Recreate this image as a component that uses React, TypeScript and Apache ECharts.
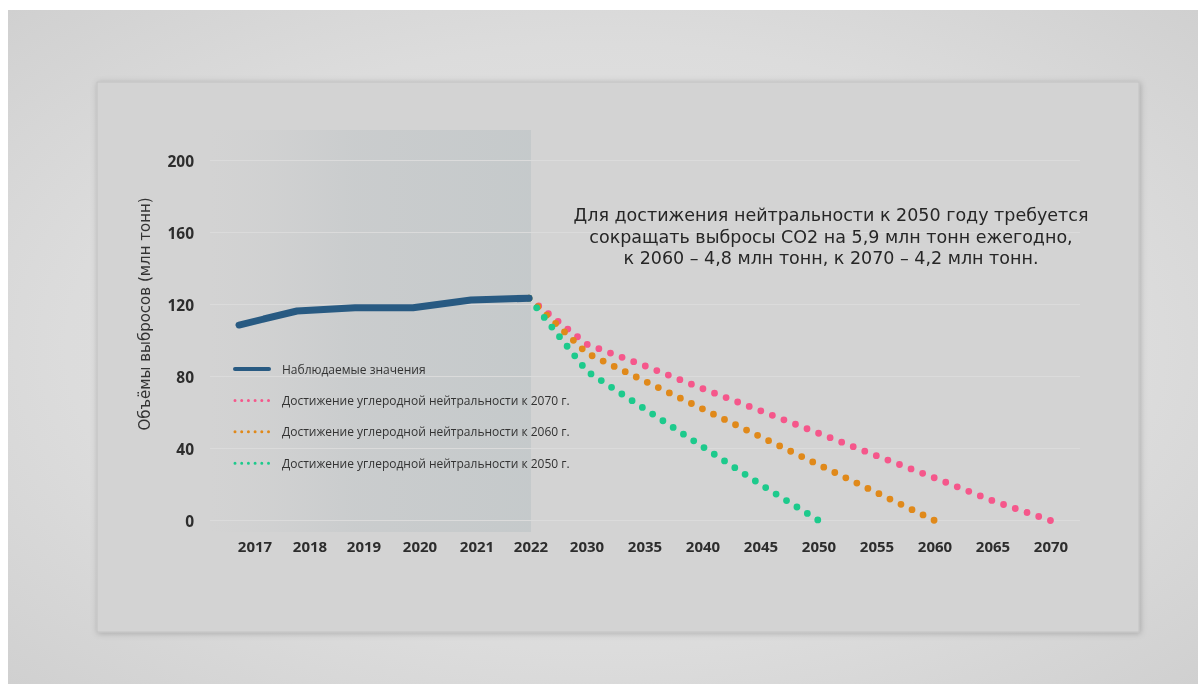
import React, { useEffect, useRef } from "react";
import * as echarts from "echarts";

const categories = ["2017", "2018", "2019", "2020", "2021", "2022", "2030", "2035", "2040", "2045", "2050", "2055", "2060", "2065", "2070"];
const observed = [108.7, 116.5, 118.3, 118.3, 122.6, 123.6];
// trajectories start at 2022
const path2070 = [123.6, 98, 86, 73.3, 61, 48.5, 36, 23.7, 11, 0];
const path2060 = [123.6, 93, 77.5, 62, 46.5, 31, 15.5, 0];
const path2050 = [123.6, 83, 62, 41, 20, 0];
const yMin = 0;
const yMax = 200;
const yStep = 40;

const nameObserved = "Наблюдаемые значения";
const name2070 = "Достижение углеродной нейтральности к 2070 г.";
const name2060 = "Достижение углеродной нейтральности к 2060 г.";
const name2050 = "Достижение углеродной нейтральности к 2050 г.";
const yAxisTitle = "Объёмы выбросов (млн тонн)";
const noteText = "Для достижения нейтральности к 2050 году требуется\nсокращать выбросы CO2 на 5,9 млн тонн ежегодно,\nк 2060 – 4,8 млн тонн, к 2070 – 4,2 млн тонн.";

// style-only: horizontal nudge of the first tick labels (px)
const labelShift = [16, 13, 9, 7, 6, 2];

const FONT = '"Open Sans", "Noto Sans", sans-serif';
const WIDE = '"DejaVu Sans", "Open Sans", sans-serif';
const C_OBS = "#285a82";
const C_2070 = "#f5578b";
const C_2060 = "#e0891a";
const C_2050 = "#1dca8c";

const gap = 5; // observed years before 2022
const pad = (arr: number[]) => [...Array(gap).fill("-"), ...arr];

export default function App() {
  const ref = useRef<HTMLDivElement>(null);
  useEffect(() => {
    if (!ref.current) return;
    const chart = echarts.init(ref.current, undefined, { renderer: "svg" });
    const dotted = (color: string, spacing: number) => ({
      color,
      width: 6.8,
      type: [0, spacing] as any,
      cap: "round" as const,
    });
    const legendDots = { width: 3, type: [0, 6.7] as any, cap: "round" as const };
    const labelBase = { color: "#2d2d2d", fontFamily: FONT, fontWeight: "bold" as const, fontSize: 15 };
    const rich: Record<string, any> = { n: { ...labelBase } };
    labelShift.forEach((s, i) => {
      rich["s" + i] = { ...labelBase, padding: [0, 0, 0, 2 * s] };
    });
    chart.setOption({
      animation: false,
      graphic: [
        {
          type: "rect",
          z: -100,
          shape: { x: 0, y: 0, width: 1190, height: 674 },
          style: {
            fill: new echarts.graphic.RadialGradient(0.5, 0.5, 0.75, [
              { offset: 0, color: "#e6e6e6" },
              { offset: 0.6, color: "#dcdcdc" },
              { offset: 1, color: "#cecece" },
            ]),
          },
          silent: true,
        },
        {
          type: "rect",
          z: -90,
          shape: { x: 89, y: 72, width: 1042, height: 550 },
          style: {
            fill: "#d3d3d3",
            stroke: "#c2c2c2",
            lineWidth: 1,
            shadowBlur: 6,
            shadowColor: "rgba(0,0,0,0.22)",
            shadowOffsetX: 1,
            shadowOffsetY: 1,
          },
          silent: true,
        },
        {
          type: "rect",
          z: -80,
          shape: { x: 202, y: 120, width: 321, height: 402 },
          style: {
            fill: new echarts.graphic.LinearGradient(0, 0, 1, 0, [
              { offset: 0, color: "rgba(195,198,200,0)" },
              { offset: 0.15, color: "rgba(190,195,198,0.1)" },
              { offset: 0.45, color: "rgba(185,192,195,0.35)" },
              { offset: 1, color: "rgba(180,190,193,0.45)" },
            ]),
          },
          silent: true,
        },
        {
          type: "text",
          z: 10,
          x: 137,
          y: 304,
          rotation: Math.PI / 2,
          style: {
            text: yAxisTitle,
            fontFamily: WIDE,
            fontSize: 15,
            fill: "#333333",
            align: "center",
            verticalAlign: "middle",
          },
          silent: true,
        },
        {
          type: "text",
          z: 10,
          x: 823,
          y: 194,
          style: {
            text: noteText,
            fontFamily: WIDE,
            fontSize: 17.5,
            lineHeight: 21.7,
            fill: "#262626",
            align: "center",
            verticalAlign: "top",
          },
          silent: true,
        },
      ],
      grid: { left: 202, right: 118, top: 150.7, bottom: 163.3 },
      legend: {
        orient: "vertical",
        left: 220,
        top: 348,
        itemWidth: 34,
        itemHeight: 14,
        itemGap: 19.4,
        selectedMode: false,
        itemStyle: { opacity: 0 },
        textStyle: { color: "#333333", fontSize: 12, fontFamily: FONT, padding: [0, 0, 0, 8] },
        data: [
          { name: nameObserved, lineStyle: { width: 4 } },
          { name: name2070, lineStyle: legendDots },
          { name: name2060, lineStyle: legendDots },
          { name: name2050, lineStyle: legendDots },
        ],
      },
      xAxis: {
        type: "category",
        data: categories,
        boundaryGap: true,
        axisLine: { show: false },
        axisTick: { show: false },
        splitLine: { show: false },
        axisLabel: {
          ...labelBase,
          margin: 18,
          interval: 0,
          formatter: (v: string, i: number) => (i < labelShift.length ? `{s${i}|${v}}` : `{n|${v}}`),
          rich,
        },
      },
      yAxis: {
        type: "value",
        min: yMin,
        max: yMax,
        interval: yStep,
        axisLine: { show: false },
        axisTick: { show: false },
        splitLine: { lineStyle: { color: "#dbdbdb", width: 1 } },
        axisLabel: {
          color: "#2d2d2d",
          fontFamily: FONT,
          fontWeight: "bold",
          fontSize: 15.5,
          margin: 16,
        },
      },
      series: [
        {
          name: name2070,
          type: "line",
          data: pad(path2070),
          symbol: "none",
          color: C_2070,
          lineStyle: dotted(C_2070, 12.39),
          z: 2,
        },
        {
          name: name2060,
          type: "line",
          data: pad(path2060),
          symbol: "none",
          color: C_2060,
          lineStyle: dotted(C_2060, 12.24),
          z: 3,
        },
        {
          name: name2050,
          type: "line",
          data: pad(path2050),
          symbol: "none",
          color: C_2050,
          lineStyle: dotted(C_2050, 12.26),
          z: 3,
        },
        {
          name: nameObserved,
          type: "line",
          data: observed,
          symbol: "none",
          color: C_OBS,
          lineStyle: { color: C_OBS, width: 7, cap: "round", join: "round" },
          z: 4,
        },
      ],
    });
    return () => chart.dispose();
  }, []);
  return (
    <div
      ref={ref}
      style={{ position: "fixed", left: 8, top: 10, width: 1190, height: 674 }}
    />
  );
}
